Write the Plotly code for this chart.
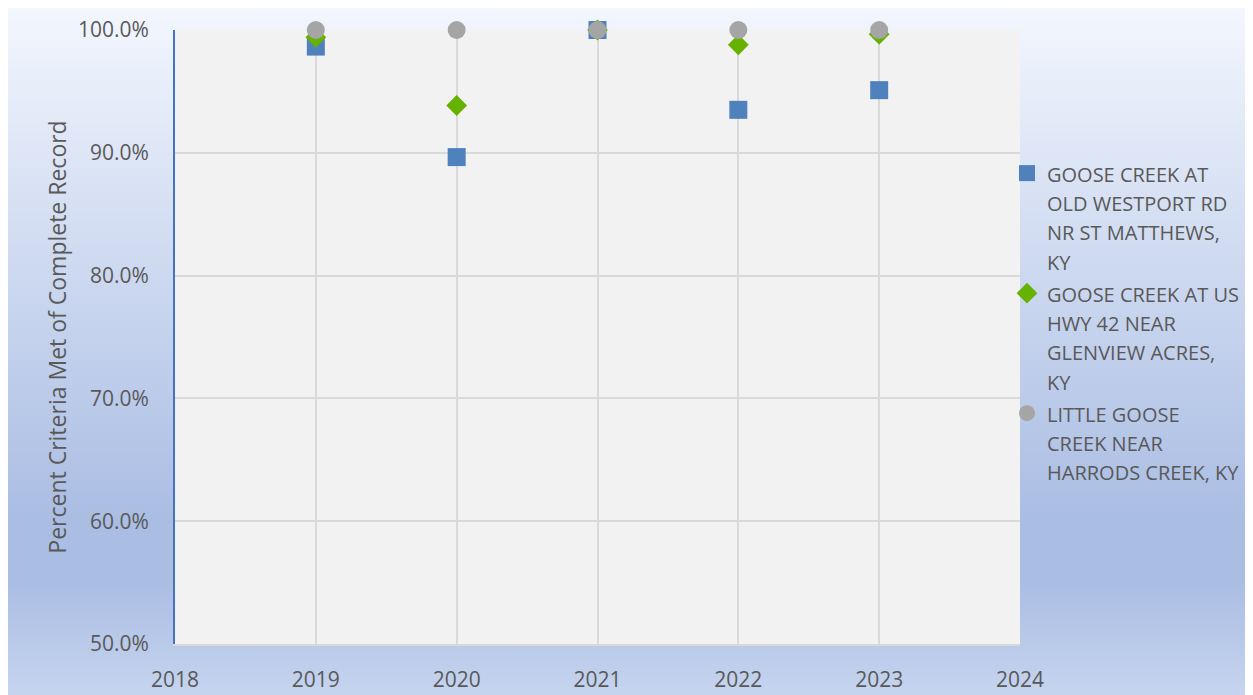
import base64
import plotly.graph_objects as go

years = [2019, 2020, 2021, 2022, 2023]
goose_westport = [0.9865, 0.8965, 1.0, 0.9350, 0.9510]
goose_hwy42 = [0.9940, 0.9385, 1.0, 0.9880, 0.9965]
little_goose = [1.0, 1.0, 1.0, 1.0, 1.0]

name_lines = [
    ["GOOSE CREEK AT", "OLD WESTPORT RD", "NR ST MATTHEWS,", "KY"],
    ["GOOSE CREEK AT US", "HWY 42 NEAR", "GLENVIEW ACRES,", "KY"],
    ["LITTLE GOOSE", "CREEK NEAR", "HARRODS CREEK, KY"],
]
colors = ["#4F81BD", "#66B200", "#A5A5A5"]
symbols = ["square", "diamond", "circle"]
sizes = [18, 16, 18]
series = [goose_westport, goose_hwy42, little_goose]

FONT = "Open Sans"
TXT = "#595959"
LEG_TXT = 20


def legend_name(lines):
    return "<br>".join(f"<span style='font-size:{LEG_TXT}px'>{ln}</span>" for ln in lines)


fig = go.Figure()
for vals, lines, c, s, sz in zip(series, name_lines, colors, symbols, sizes):
    fig.add_trace(go.Scatter(
        x=years, y=vals, name=legend_name(lines), mode="markers", cliponaxis=False,
        marker=dict(symbol=s, size=sz, color=c, line=dict(width=0)),
    ))

# background gradient (figure area)
svg = (
    '<svg xmlns="http://www.w3.org/2000/svg" width="100" height="100" preserveAspectRatio="none">'
    '<defs><linearGradient id="g" x1="0" y1="0" x2="0" y2="1">'
    '<stop offset="0" stop-color="#F3F7FE"/>'
    '<stop offset="0.74" stop-color="#AABDE3"/>'
    '<stop offset="0.83" stop-color="#AABDE3"/>'
    '<stop offset="1" stop-color="#C7D5EF"/>'
    '</linearGradient></defs>'
    '<rect width="100" height="100" fill="url(#g)"/></svg>'
)
src = "data:image/svg+xml;base64," + base64.b64encode(svg.encode()).decode()

# page body margin offsets the figure by 8px
OFF = 8
W, H = 1253 - OFF, 695 - OFF
L, R, T, B = 175 - OFF, 233, 30 - OFF, 51
pw, ph = W - L - R, H - T - B


def px(xp):
    return (xp - OFF - L) / pw


def py(yp):
    return (H - B - (yp - OFF)) / ph


fig.add_layout_image(dict(
    source=src, xref="paper", yref="paper",
    x=px(6), y=py(4), sizex=(1252 - 6) / pw, sizey=(700 - 4) / ph,
    xanchor="left", yanchor="top", sizing="stretch", layer="below",
))

fig.add_shape(type="rect", xref="paper", yref="paper", x0=0, x1=1, y0=0, y1=1,
              fillcolor="#F2F2F2", line=dict(width=0), layer="below")
fig.add_shape(type="rect", xref="paper", yref="paper",
              x0=px(6), x1=px(1252), y0=py(700), y1=py(4),
              fillcolor="rgba(0,0,0,0)", line=dict(color="#D9D9D9", width=1.5), layer="below")

fig.update_layout(
    width=W, height=H,
    margin=dict(l=L, r=R, t=T, b=B, autoexpand=False),
    paper_bgcolor="white",
    plot_bgcolor="#F2F2F2",
    font=dict(family=FONT, size=21, color=TXT),
    showlegend=True,
    legend=dict(
        xref="container", yref="container",
        x=(1007 - OFF) / W, y=1 - (152 - OFF) / H, xanchor="left", yanchor="top",
        bgcolor="rgba(0,0,0,0)", font=dict(family=FONT, size=22.5, color=TXT),
        valign="top", itemwidth=30, tracegroupgap=0,
    ),
)
fig.update_xaxes(
    range=[2018, 2024], dtick=1, tick0=2018, automargin=False,
    showgrid=True, gridcolor="#D9D9D9", gridwidth=1.5,
    showline=True, linecolor="#D9D9D9", linewidth=1.5,
    zeroline=False, ticks="", ticklabelstandoff=16,
    tickfont=dict(family=FONT, size=21, color=TXT),
)
fig.update_yaxes(
    range=[0.5, 1.0], dtick=0.1, tick0=0.5, tickformat=".1%", automargin=False,
    showgrid=True, gridcolor="#D9D9D9", gridwidth=1.5,
    showline=True, linecolor="#4472C4", linewidth=2,
    zeroline=False, ticks="", ticklabelstandoff=20,
    tickfont=dict(family=FONT, size=21, color=TXT),
    title=dict(text="Percent Criteria Met of Complete Record",
               font=dict(family=FONT, size=23, color=TXT), standoff=5),
)

fig.write_html("out.html")
